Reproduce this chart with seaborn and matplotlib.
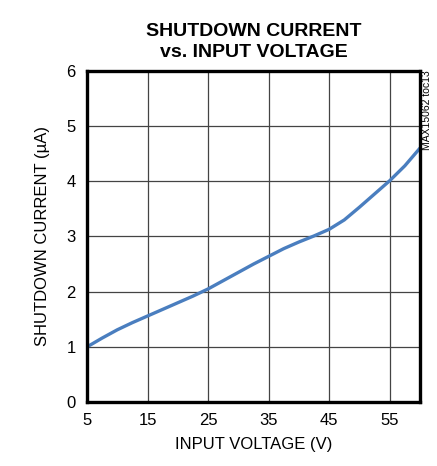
import numpy as np
import pandas as pd
import seaborn as sns
import matplotlib.pyplot as plt

# shutdown current vs input voltage
voltage = [5, 7.5, 10, 12.5, 15, 17.5, 20, 22.5, 25, 27.5, 30, 32.5, 35, 37.5, 40,
           42.5, 45, 47.5, 50, 52.5, 55, 57.5, 60]
current = [1.0, 1.16, 1.31, 1.44, 1.56, 1.68, 1.80, 1.92, 2.05, 2.20, 2.35, 2.50, 2.64,
           2.78, 2.90, 3.01, 3.13, 3.30, 3.53, 3.77, 4.01, 4.28, 4.60]
x_ticks = [5, 15, 25, 35, 45, 55]
y_ticks = [0, 1, 2, 3, 4, 5, 6]

df = pd.DataFrame({"voltage": voltage, "current": current})

sns.set_style("white")
plt.rcParams['font.family'] = ['Liberation Sans Narrow', 'Liberation Sans', 'DejaVu Sans']
plt.rcParams['text.color'] = 'black'
plt.rcParams['xtick.color'] = 'black'
plt.rcParams['ytick.color'] = 'black'
plt.rcParams['axes.labelcolor'] = 'black'

fig = plt.figure(figsize=(4.37, 4.66), dpi=100)
ax = fig.add_axes([0.199, 0.137, 0.762, 0.711])

sns.lineplot(data=df, x="voltage", y="current", color="#4a7ebf", linewidth=2.4, ax=ax)

ax.set_xlim(5, 60)
ax.set_ylim(0, 6)
ax.set_xticks(x_ticks)
ax.set_yticks(y_ticks)
ax.grid(True, color="#444444", linewidth=0.9)
ax.set_axisbelow(True)
ax.tick_params(axis="both", length=0, labelsize=12, pad=8)
for s in ax.spines.values():
    s.set_color("black")
    s.set_linewidth(2.4)

ax.set_xlabel("INPUT VOLTAGE (V)", fontsize=12, labelpad=6)
ax.set_ylabel("SHUTDOWN CURRENT (\u00b5A)", fontsize=12, labelpad=12)
ax.set_title("SHUTDOWN CURRENT\nvs. INPUT VOLTAGE", fontsize=14, fontweight="bold",
             linespacing=1.3, pad=10)

fig.text(0.978, 0.85, "MAX15062 toc13", rotation=90, fontsize=7.5, ha="center", va="top")

fig.savefig("out.png", dpi=100)
